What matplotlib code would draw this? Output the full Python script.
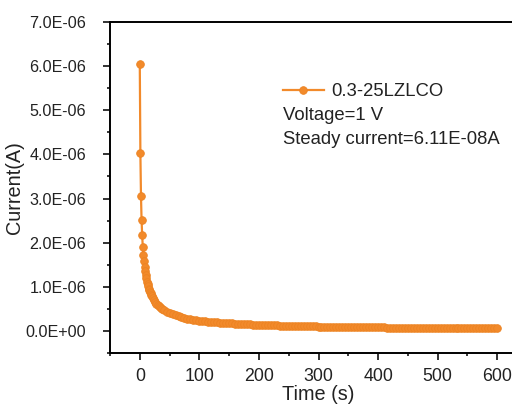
import matplotlib
matplotlib.use('Agg')
import matplotlib.pyplot as plt
from matplotlib.ticker import MultipleLocator, FuncFormatter

plt.rcParams['font.family'] = ['Liberation Sans', 'DejaVu Sans']

# time (s) and current (A)
time = [0, 1, 2, 3, 4, 5, 6, 7, 8, 9, 10, 11, 12, 13, 14, 15, 16, 17, 18, 19, 20,
        22, 24, 26, 28, 30, 32, 34, 36, 38, 40,
        45, 50, 55, 60, 65, 70, 75, 80, 85, 90, 95, 100,
        105, 110, 115, 120, 125, 130, 135, 140, 145, 150, 155, 160, 165, 170, 175,
        180, 185, 190, 195, 200, 205, 210, 215, 220, 225, 230, 235, 240, 245, 250,
        255, 260, 265, 270, 275, 280, 285, 290, 295, 300, 305, 310, 315, 320, 325,
        330, 335, 340, 345, 350, 355, 360, 365, 370, 375, 380, 385, 390, 395, 400,
        405, 410, 415, 420, 425, 430, 435, 440, 445, 450, 455, 460, 465, 470, 475,
        480, 485, 490, 495, 500, 505, 510, 515, 520, 525, 530, 535, 540, 545, 550,
        555, 560, 565, 570, 575, 580, 585, 590, 595, 600]
current_uA = [6.04, 4.03, 3.06, 2.51, 2.17, 1.91, 1.72, 1.58, 1.45, 1.35, 1.26,
              1.19, 1.12, 1.06, 1.01, 0.96, 0.92, 0.88, 0.85, 0.82, 0.79,
              0.74, 0.70, 0.66, 0.62, 0.59, 0.565, 0.54, 0.515, 0.495, 0.475,
              0.435, 0.40, 0.375, 0.35, 0.33, 0.31, 0.295, 0.28, 0.268, 0.257, 0.246, 0.235,
              0.227, 0.220, 0.213, 0.206, 0.200, 0.194, 0.188, 0.183, 0.178, 0.174,
              0.170, 0.166, 0.162, 0.158, 0.154, 0.151, 0.148, 0.145, 0.142, 0.139,
              0.136, 0.134, 0.131, 0.129, 0.127, 0.124, 0.122, 0.120, 0.118, 0.116,
              0.114, 0.112, 0.111, 0.109, 0.107, 0.106, 0.104, 0.103, 0.101, 0.100,
              0.099, 0.097, 0.096, 0.095, 0.094, 0.092, 0.091, 0.090, 0.089, 0.088,
              0.087, 0.086, 0.085, 0.084, 0.083, 0.082, 0.082, 0.081, 0.080, 0.079,
              0.078, 0.078, 0.077, 0.076, 0.076, 0.075, 0.074, 0.074, 0.073, 0.072,
              0.072, 0.071, 0.071, 0.070, 0.070, 0.069, 0.069, 0.068, 0.068, 0.067,
              0.067, 0.066, 0.066, 0.066, 0.065, 0.065, 0.064, 0.064, 0.064, 0.063,
              0.063, 0.063, 0.062, 0.062, 0.062, 0.062, 0.061, 0.061, 0.061, 0.061]
current = [c * 1e-6 for c in current_uA]

series_name = '0.3-25LZLCO'
notes = ['Voltage=1 V', 'Steady current=6.11E-08A']

orange = '#F28A2B'
ink = '#222222'

fig = plt.figure(figsize=(5.12, 4.09), dpi=100)
ax = fig.add_axes([110 / 512, 1 - 353 / 409, 417 / 512, 331 / 409])

ax.plot(time, current, '-o', color=orange, lw=1.6, ms=5.5,
        markerfacecolor=orange, markeredgecolor='#EC8322', markeredgewidth=0.6,
        label=series_name)

ax.set_xlim(-50, 650)
ax.set_ylim(-0.5e-6, 7e-6)
ax.xaxis.set_major_locator(MultipleLocator(100))
ax.xaxis.set_minor_locator(MultipleLocator(50))
ax.yaxis.set_major_locator(MultipleLocator(1e-6))
ax.yaxis.set_minor_locator(MultipleLocator(0.5e-6))


def sci(v, pos):
    s = '%.1E' % v
    return s.replace('-0.0E', '0.0E')


ax.yaxis.set_major_formatter(FuncFormatter(sci))

for sp in ax.spines.values():
    sp.set_linewidth(1.4)
ax.tick_params(which='major', direction='out', length=5, width=1.3,
               colors=ink, labelcolor=ink)
ax.tick_params(which='minor', direction='out', length=2.5, width=1.1)
ax.tick_params(axis='y', which='major', pad=12, labelsize=11.6)
ax.tick_params(axis='x', which='major', pad=6, labelsize=12.8)

ax.set_xlabel('Time (s)', fontsize=14.3, color=ink, labelpad=0)
ax.set_ylabel('Current(A)', fontsize=14.3, color=ink, labelpad=1)

leg = ax.legend(loc='center left', bbox_to_anchor=(283 / 512, 1 - 92 / 409),
                bbox_transform=fig.transFigure, frameon=False, fontsize=13.3,
                borderpad=0, borderaxespad=0, handlelength=2.2, handletextpad=0.4)
for t in leg.get_texts():
    t.set_color(ink)

fig.text(283 / 512, 1 - 115 / 409, notes[0], fontsize=13.3, va='center', color=ink)
fig.text(283 / 512, 1 - 139 / 409, notes[1], fontsize=13.3, va='center', color=ink)

fig.savefig('out.png', dpi=100)
